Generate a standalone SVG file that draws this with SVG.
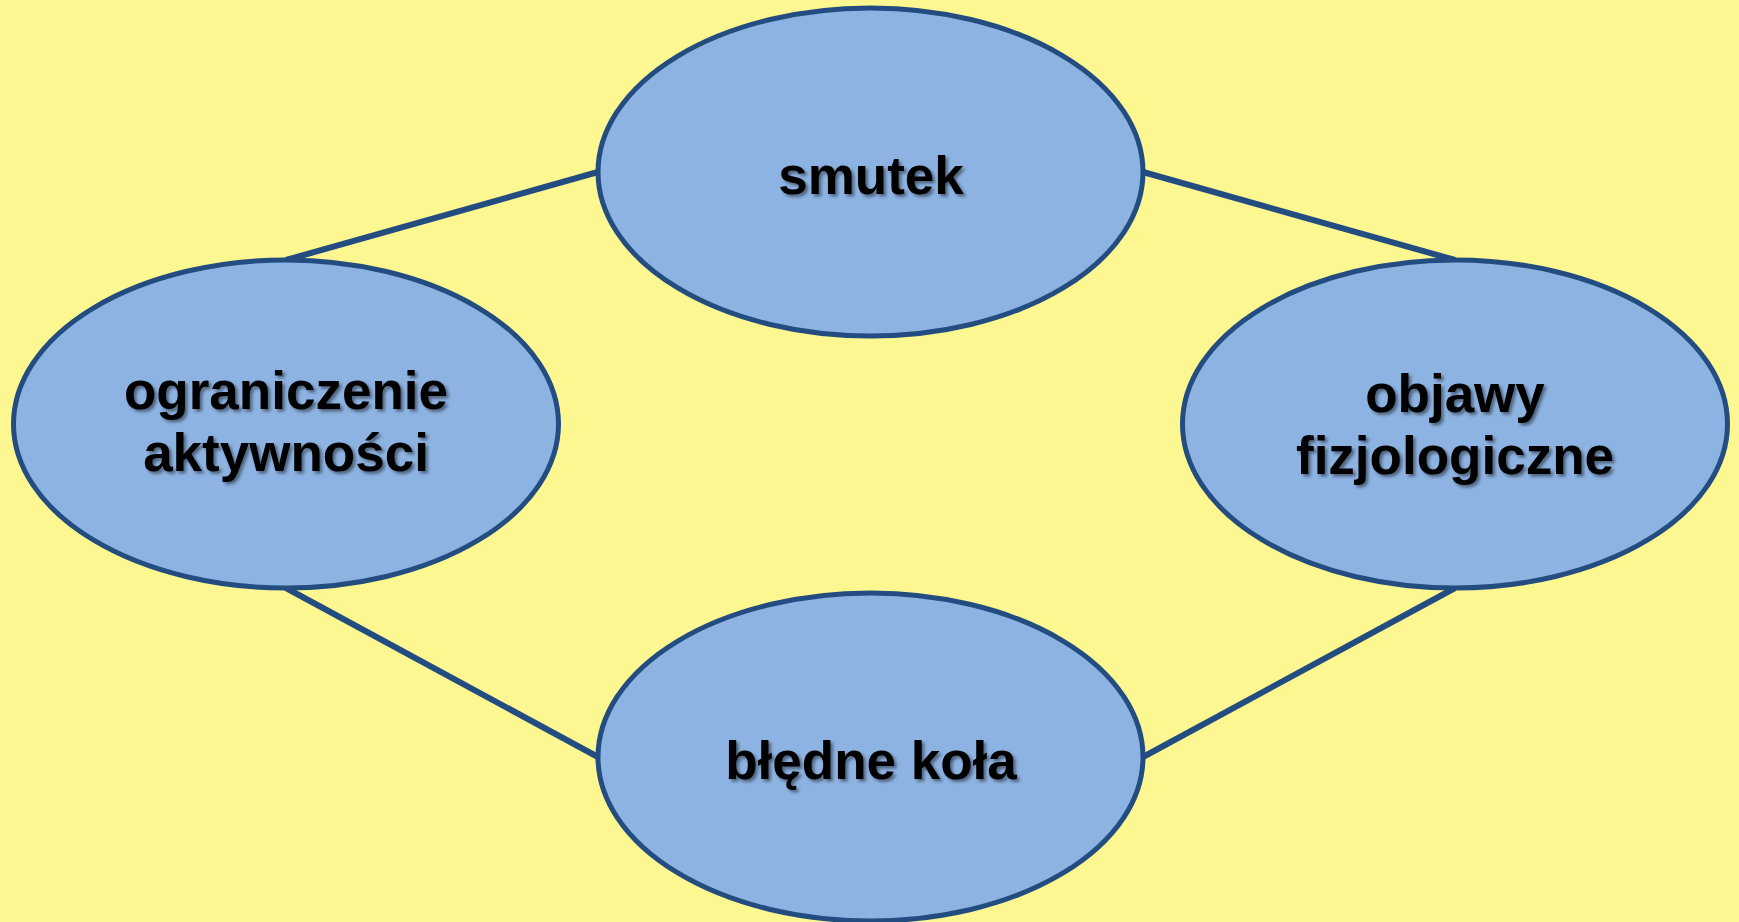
<svg xmlns="http://www.w3.org/2000/svg" width="1739" height="922" viewBox="0 0 1739 922">
  <defs>
    <filter id="txtShadow" x="-10%" y="-30%" width="120%" height="160%">
      <feDropShadow dx="2.5" dy="2.5" stdDeviation="1.5" flood-color="#000000" flood-opacity="0.45"/>
    </filter>
  </defs>
  <style>
    .bg { fill: #FCF791; }
    .node { fill: #8DB3E2; stroke: #234D80; stroke-width: 5; }
    .link { stroke: #234D80; stroke-width: 6; fill: none; }
    .label { font-family: "Liberation Sans", Arial, sans-serif; font-weight: bold; font-size: 53px; fill: #000000; text-anchor: middle; filter: url(#txtShadow); }
  </style>

  <rect class="bg" x="0" y="0" width="1739" height="922"/>

  <!-- connectors between the four states -->
  <g id="connectors">
    <line class="link" x1="598" y1="172" x2="286" y2="260"/>
    <line class="link" x1="1143" y1="172" x2="1455" y2="260"/>
    <line class="link" x1="286" y1="588" x2="598" y2="757"/>
    <line class="link" x1="1455" y1="588" x2="1143" y2="757"/>
  </g>

  <g id="node-smutek">
    <ellipse class="node" cx="870.5" cy="172" rx="272.5" ry="164"/>
    <text class="label" x="871" y="194">smutek</text>
  </g>

  <g id="node-ograniczenie">
    <ellipse class="node" cx="286" cy="424" rx="272.5" ry="164"/>
    <text class="label" x="286" y="409">ograniczenie</text>
    <text class="label" x="286" y="471">aktywności</text>
  </g>

  <g id="node-objawy">
    <ellipse class="node" cx="1455" cy="424" rx="272.5" ry="164"/>
    <text class="label" x="1455" y="412">objawy</text>
    <text class="label" x="1455" y="474">fizjologiczne</text>
  </g>

  <g id="node-bledne">
    <ellipse class="node" cx="870.5" cy="757" rx="272.5" ry="164"/>
    <text class="label" x="871" y="779">błędne koła</text>
  </g>
</svg>
